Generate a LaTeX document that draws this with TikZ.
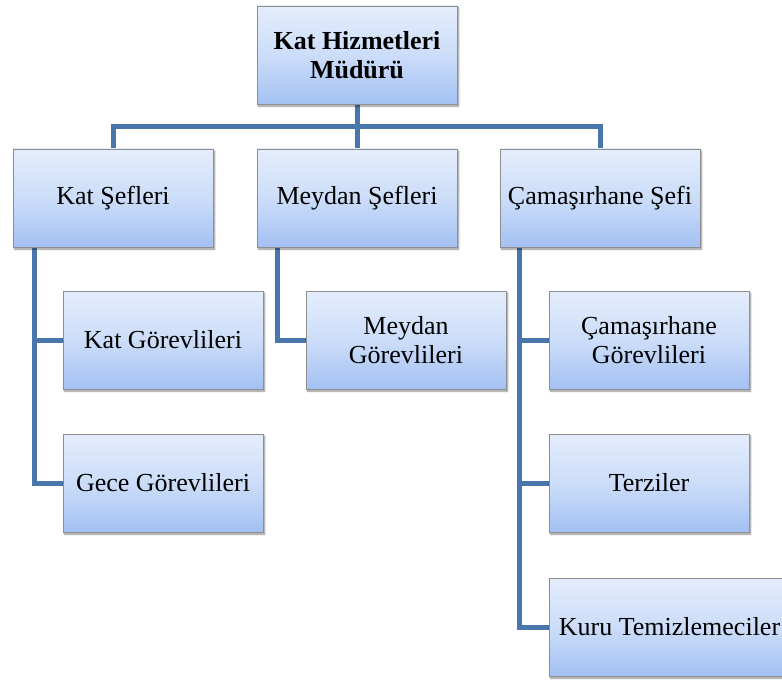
\documentclass[tikz,border=0pt]{standalone}
\usepackage{fontspec}
\setmainfont{Liberation Serif}
\usetikzlibrary{calc,backgrounds,shadows.blur}
\definecolor{boxtop}{HTML}{E4EDFC}
\definecolor{boxmid}{HTML}{CCDDF9}
\definecolor{boxbot}{HTML}{A3C1F3}
\definecolor{boxedge}{HTML}{8E8E8E}
\definecolor{linkblue}{HTML}{4A77AB}
\tikzset{
  orgbox/.style={draw=boxedge, line width=0.8pt, rectangle,
    top color=boxtop, bottom color=boxbot, middle color=boxmid,
    minimum width=200pt, minimum height=98pt, inner sep=2pt,
    align=center, font=\fontsize{26}{29}\selectfont,
    blur shadow={shadow xshift=1.5pt, shadow yshift=-2pt, shadow blur steps=6, shadow opacity=45}},
  link/.style={draw=linkblue, line width=5pt}
}
\begin{document}
\begin{tikzpicture}[x=1pt,y=-1pt]
  \useasboundingbox (0,0) rectangle (782,682);
  % head
  \node[orgbox, font=\bfseries\fontsize{26}{29}\selectfont] (head) at (357,55) {Kat Hizmetleri\\Müdürü};
  % chiefs
  \node[orgbox] (ks) at (113,198) {Kat Şefleri};
  \node[orgbox] (ms) at (357,198) {Meydan Şefleri};
  \node[orgbox] (cs) at (600,198) {Çamaşırhane Şefi};
  % staff
  \node[orgbox] (kg) at (163,340) {Kat Görevlileri};
  \node[orgbox] (gg) at (163,483) {Gece Görevlileri};
  \node[orgbox] (mg) at (406,340) {Meydan\\Görevlileri};
  \node[orgbox] (cg) at (649,340) {Çamaşırhane\\Görevlileri};
  \node[orgbox] (tz) at (649,483) {Terziler};
  \node[orgbox, minimum width=241pt] (kt) at (669.5,627) {Kuru Temizlemeciler};
  % connectors
  \begin{scope}[on background layer]
    \coordinate (bus) at ($(head.south)+(0,22)$);
    \draw[link] (head.south) -- (bus);
    \draw[link] (ks.north) |- (bus) -| (cs.north);
    \draw[link] (bus) -- (ms.north);
    \draw[link] ($(ks.south west)+(22,0)$) |- (gg.west);
    \draw[link] ($(ks.south west)+(22,0)$) |- (kg.west);
    \draw[link] ($(ms.south west)+(21,0)$) |- (mg.west);
    \draw[link] ($(cs.south west)+(20,0)$) |- (kt.west);
    \draw[link] ($(cs.south west)+(20,0)$) |- (cg.west);
    \draw[link] ($(cs.south west)+(20,0)$) |- (tz.west);
  \end{scope}
\end{tikzpicture}
\end{document}
